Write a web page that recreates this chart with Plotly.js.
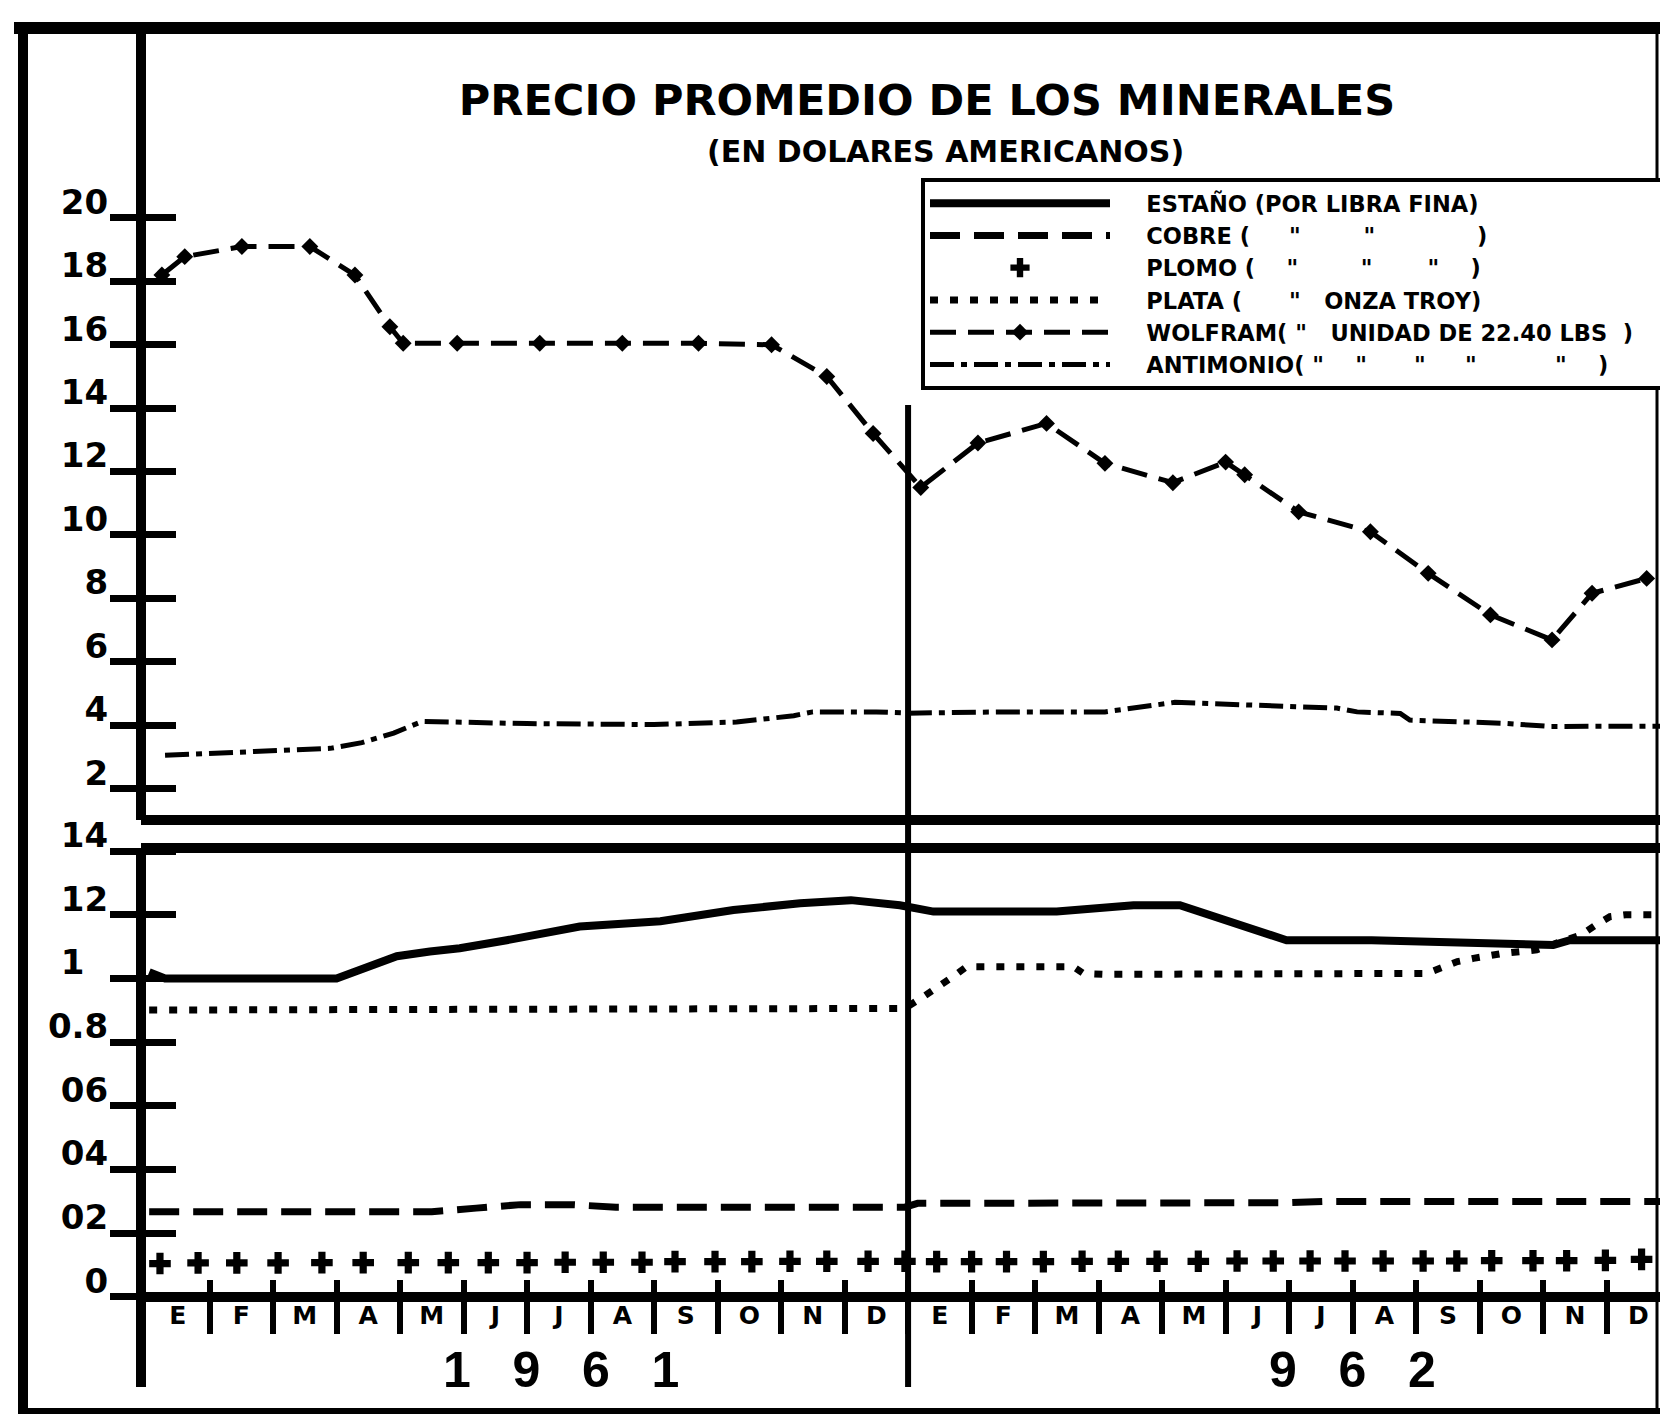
<!DOCTYPE html>
<html>
<head>
<meta charset="utf-8">
<script src="https://cdn.plot.ly/plotly-3.0.1.min.js"></script>
<style>
html,body{margin:0;padding:0;background:#ffffff;}
#chart{width:1660px;height:1416px;}
</style>
</head>
<body>
<div id="chart"></div>
<script>
// ---------------- DATA (x in months from January 1961; 12 = January 1962) ----------------
const MONTH_LABELS = ['E','F','M','A','M','J','J','A','S','O','N','D','E','F','M','A','M','J','J','A','S','O','N','D'];
const MONTH_CENTERS = [0.5,1.5,2.5,3.5,4.5,5.5,6.5,7.5,8.5,9.5,10.5,11.5,12.5,13.5,14.5,15.5,16.5,17.5,18.5,19.5,20.5,21.5,22.5,23.5];
const MONTH_EDGES = [1,2,3,4,5,6,7,8,9,10,11,12,13,14,15,16,17,18,19,20,21,22,23];
const UPPER_TICKS = [2,4,6,8,10,12,14,16,18,20];
const UPPER_TICK_TEXT = ['2','4','6','8','10','12','14','16','18','20'];
const LOWER_TICKS = [0,0.2,0.4,0.6,0.8,1.0,1.2,1.4];
const LOWER_TICK_TEXT = ['0','02','04','06','0.8','1\u00a0\u00a0','12','14'];
const YEAR_LABELS = ['1\u00a0\u00a0\u00a09\u00a0\u00a0\u00a06\u00a0\u00a0\u00a01', '9\u00a0\u00a0\u00a06\u00a0\u00a0\u00a02'];
const YEAR_X = [6.54, 19.0];
const YEAR_BREAK = 12;

const LEAD = '\u00a0\u00a0\u00a0\u00a0';
const SERIES_NAMES = [
  LEAD + 'ESTAÑO (POR LIBRA FINA)',
  LEAD + 'COBRE (\u00a0\u00a0\u00a0\u00a0\u00a0"\u00a0\u00a0\u00a0\u00a0\u00a0\u00a0\u00a0\u00a0"\u00a0\u00a0\u00a0\u00a0\u00a0\u00a0\u00a0\u00a0\u00a0\u00a0\u00a0\u00a0\u00a0)',
  LEAD + 'PLOMO (\u00a0\u00a0\u00a0\u00a0"\u00a0\u00a0\u00a0\u00a0\u00a0\u00a0\u00a0\u00a0"\u00a0\u00a0\u00a0\u00a0\u00a0\u00a0\u00a0"\u00a0\u00a0\u00a0\u00a0)',
  LEAD + 'PLATA (\u00a0\u00a0\u00a0\u00a0\u00a0\u00a0"\u00a0\u00a0\u00a0ONZA TROY)',
  LEAD + 'WOLFRAM(\u00a0"\u00a0\u00a0\u00a0UNIDAD DE 22.40 LBS\u00a0\u00a0)\u00a0\u00a0\u00a0',
  LEAD + 'ANTIMONIO(\u00a0"\u00a0\u00a0\u00a0\u00a0"\u00a0\u00a0\u00a0\u00a0\u00a0\u00a0"\u00a0\u00a0\u00a0\u00a0\u00a0"\u00a0\u00a0\u00a0\u00a0\u00a0\u00a0\u00a0\u00a0\u00a0\u00a0"\u00a0\u00a0\u00a0\u00a0)'
];

// Lower scale (dollars)
const ESTANO_X = [0.05, 0.3, 3.0, 3.95, 4.47, 4.94, 5.68, 6.83, 8.1, 9.25, 10.3, 11.1, 11.87, 12.4, 14.34, 15.55, 16.28, 17.96, 19.3, 21.0, 22.16, 22.42, 23.84];
const ESTANO_Y = [1.02, 1.0, 1.0, 1.07, 1.085, 1.095, 1.12, 1.163, 1.18, 1.215, 1.236, 1.246, 1.23, 1.21, 1.21, 1.23, 1.23, 1.12, 1.12, 1.11, 1.105, 1.12, 1.12];

const COBRE_X = [0.05, 4.5, 5.2, 5.9, 6.7, 7.4, 11.95, 12.15, 18.0, 18.6, 23.84];
const COBRE_Y = [0.268, 0.268, 0.279, 0.29, 0.29, 0.282, 0.282, 0.294, 0.296, 0.3, 0.3];

const PLOMO_X = [0.22, 0.82, 1.43, 2.08, 2.77, 3.42, 4.13, 4.76, 5.39, 6.0, 6.6, 7.2, 7.81, 8.33, 8.96, 9.54, 10.14, 10.72, 11.37, 11.95, 12.45, 13.0, 13.55, 14.13, 14.74, 15.31, 15.92, 16.57, 17.18, 17.75, 18.33, 18.88, 19.48, 20.11, 20.64, 21.19, 21.84, 22.37, 22.98, 23.55];
const PLOMO_Y = [0.105, 0.107, 0.107, 0.107, 0.108, 0.108, 0.108, 0.108, 0.108, 0.108, 0.109, 0.109, 0.109, 0.111, 0.111, 0.111, 0.112, 0.112, 0.112, 0.112, 0.111, 0.111, 0.111, 0.111, 0.112, 0.112, 0.112, 0.112, 0.113, 0.113, 0.113, 0.113, 0.113, 0.113, 0.113, 0.114, 0.114, 0.114, 0.115, 0.118];

const PLATA_X = [0.05, 11.95, 12.24, 12.45, 12.71, 12.92, 14.6, 14.76, 15.1, 20.17, 20.43, 20.65, 20.9, 21.37, 21.9, 22.32, 22.6, 22.83, 23.05, 23.3, 23.84];
const PLATA_Y = [0.901, 0.906, 0.943, 0.97, 1.006, 1.037, 1.037, 1.016, 1.013, 1.016, 1.037, 1.053, 1.063, 1.079, 1.09, 1.12, 1.137, 1.168, 1.194, 1.2, 1.2];

// Upper scale (dollars per unit of 22.40 lbs)
const WOLFRAM_X = [0.25, 0.61, 1.51, 2.58, 3.29, 3.84, 4.05, 4.9, 6.2, 7.5, 8.7, 9.85, 10.72, 11.45, 12.2, 13.1, 14.18, 15.1, 16.17, 17.0, 17.3, 18.15, 19.28, 20.19, 21.17, 22.14, 22.77, 23.63];
const WOLFRAM_Y = [18.2, 18.78, 19.1, 19.1, 18.2, 16.57, 16.05, 16.05, 16.05, 16.05, 16.05, 16.0, 15.0, 13.2, 11.5, 12.9, 13.52, 12.26, 11.65, 12.3, 11.9, 10.73, 10.1, 8.79, 7.48, 6.69, 8.16, 8.63];

const ANTIMONIO_X = [0.3, 1.5, 2.9, 3.4, 3.9, 4.35, 6.0, 8.0, 9.3, 10.2, 10.5, 11.5, 12.0, 13.5, 15.1, 16.2, 17.9, 18.75, 19.07, 19.75, 19.9, 21.4, 22.1, 23.84];
const ANTIMONIO_Y = [3.05, 3.15, 3.27, 3.45, 3.75, 4.12, 4.05, 4.02, 4.1, 4.3, 4.42, 4.42, 4.38, 4.42, 4.42, 4.72, 4.58, 4.54, 4.42, 4.37, 4.16, 4.06, 3.96, 3.97];

// ---------------- LAYOUT GEOMETRY ----------------
const W = 1660, H = 1416, ML = 146, MR = 0, MT = 30, MB = 29;
const PW = W - ML - MR, PH = H - MT - MB;
const px = x => (x - ML) / PW;
const py = y => (H - MB - y) / PH;

const X_RANGE = [0, 23.84];
const LOW_RANGE = [-0.2826, 1.4097];
const UP_RANGE = [1.0095, 25.93];
const INK = '#000000';
const FONT = 'DejaVu Sans, Liberation Sans, sans-serif';

const tickFont = {family: FONT, size: 34, color: INK, weight: 700};

const traces = [
  {name: SERIES_NAMES[0], x: ESTANO_X, y: ESTANO_Y, xaxis: 'x', yaxis: 'y', mode: 'lines',
   line: {color: INK, width: 8}},
  {name: SERIES_NAMES[1], x: COBRE_X, y: COBRE_Y, xaxis: 'x3', yaxis: 'y', mode: 'lines',
   line: {color: INK, width: 7, dash: '30px,14px'}},
  {name: SERIES_NAMES[2], x: PLOMO_X, y: PLOMO_Y, xaxis: 'x', yaxis: 'y3', mode: 'markers',
   marker: {symbol: 'cross', size: 18, color: INK}},
  {name: SERIES_NAMES[3], x: PLATA_X, y: PLATA_Y, xaxis: 'x', yaxis: 'y', mode: 'lines',
   line: {color: INK, width: 7, dash: '8px,12px'}},
  {name: SERIES_NAMES[4], x: WOLFRAM_X, y: WOLFRAM_Y, xaxis: 'x2', yaxis: 'y2', mode: 'lines+markers',
   line: {color: INK, width: 5, dash: '26px,12px'}, marker: {symbol: 'diamond', size: 13, color: INK}},
  {name: SERIES_NAMES[5], x: ANTIMONIO_X, y: ANTIMONIO_Y, xaxis: 'x2', yaxis: 'y4', mode: 'lines',
   line: {color: INK, width: 5, dash: '24px,7px,6px,7px'}}
];

const baseAxis = {showgrid: false, zeroline: false, fixedrange: true, color: INK};

const layout = {
  width: W, height: H,
  margin: {l: ML, r: MR, t: MT, b: MB, autoexpand: false},
  paper_bgcolor: '#ffffff', plot_bgcolor: 'rgba(0,0,0,0)',
  font: {family: FONT, color: INK},
  showlegend: true,
  title: {
    text: 'PRECIO PROMEDIO DE LOS MINERALES',
    font: {family: FONT, size: 43, color: INK, weight: 700},
    x: 927 / W, xref: 'container', xanchor: 'center',
    y: 1 - 100 / H, yref: 'container', yanchor: 'middle'
  },
  legend: {
    x: px(921), y: py(178), xanchor: 'left', yanchor: 'top',
    bgcolor: '#ffffff', bordercolor: INK, borderwidth: 4,
    font: {family: FONT, size: 22.5, color: INK, weight: 700},
    itemwidth: 180, tracegroupgap: 0, itemclick: false, itemdoubleclick: false
  },
  // lower panel (0 - 1.4)
  xaxis: Object.assign({}, baseAxis, {
    range: X_RANGE, anchor: 'free', position: py(1297), domain: [0, 1],
    showline: true, linewidth: 10, linecolor: INK,
    tickmode: 'array', tickvals: MONTH_CENTERS, ticktext: MONTH_LABELS, ticks: '',
    tickfont: {family: FONT, size: 25, color: INK, weight: 700}, ticklabelstandoff: -8,
    minor: {tickmode: 'array', tickvals: MONTH_EDGES, ticks: 'outside', ticklen: 32, tickwidth: 6, tickcolor: INK, showgrid: false}
  }),
  xaxis3: Object.assign({}, baseAxis, {
    range: X_RANGE, overlaying: 'x', anchor: 'free', position: py(1297),
    showline: false, tickmode: 'array', tickvals: MONTH_EDGES, ticks: 'inside',
    ticklen: 17, tickwidth: 6, tickcolor: INK, showticklabels: false
  }),
  yaxis: Object.assign({}, baseAxis, {
    domain: [0, py(848)], range: LOW_RANGE, anchor: 'x',
    showline: true, linewidth: 10, linecolor: INK,
    tickmode: 'array', tickvals: LOWER_TICKS, ticktext: LOWER_TICK_TEXT,
    ticks: 'outside', ticklen: 26, tickwidth: 7, tickcolor: INK,
    tickfont: tickFont, ticklabelshift: -16, ticklabelstandoff: -5
  }),
  yaxis3: Object.assign({}, baseAxis, {
    range: LOW_RANGE, overlaying: 'y', anchor: 'x', showline: false,
    tickmode: 'array', tickvals: LOWER_TICKS, ticks: 'inside', ticklen: 30, tickwidth: 7,
    tickcolor: INK, showticklabels: false
  }),
  // upper panel (2 - 20)
  xaxis2: Object.assign({}, baseAxis, {range: X_RANGE, anchor: 'y2', visible: false}),
  yaxis2: Object.assign({}, baseAxis, {
    domain: [py(820), 1], range: UP_RANGE, anchor: 'x2',
    showline: true, linewidth: 10, linecolor: INK,
    tickmode: 'array', tickvals: UPPER_TICKS, ticktext: UPPER_TICK_TEXT,
    ticks: 'outside', ticklen: 26, tickwidth: 7, tickcolor: INK,
    tickfont: tickFont, ticklabelshift: -16, ticklabelstandoff: -5
  }),
  yaxis4: Object.assign({}, baseAxis, {
    range: UP_RANGE, overlaying: 'y2', anchor: 'x2', showline: false,
    tickmode: 'array', tickvals: UPPER_TICKS, ticks: 'inside', ticklen: 30, tickwidth: 7,
    tickcolor: INK, showticklabels: false
  }),
  shapes: [
    // scale-break lines between the two panels
    {type: 'line', xref: 'paper', yref: 'y domain', x0: px(141), x1: 1, y0: 1, y1: 1, line: {color: INK, width: 10}},
    {type: 'line', xref: 'paper', yref: 'y2 domain', x0: px(141), x1: 1, y0: 0, y1: 0, line: {color: INK, width: 10}},
    // year separator
    {type: 'line', xref: 'x', yref: 'paper', x0: YEAR_BREAK, x1: YEAR_BREAK, y0: py(1387), y1: py(405), line: {color: INK, width: 6}},
    // outer frame
    {type: 'line', xref: 'paper', yref: 'paper', x0: px(14), x1: px(1660), y0: py(28), y1: py(28), line: {color: INK, width: 12}},
    {type: 'line', xref: 'paper', yref: 'paper', x0: px(23), x1: px(23), y0: py(22), y1: py(1414), line: {color: INK, width: 10}},
    {type: 'line', xref: 'paper', yref: 'paper', x0: px(18), x1: px(1660), y0: py(1411), y1: py(1411), line: {color: INK, width: 6}},
    {type: 'line', xref: 'paper', yref: 'paper', x0: px(1657), x1: px(1657), y0: py(22), y1: py(1411), line: {color: INK, width: 3}}
  ],
  annotations: [
    {text: '(EN DOLARES AMERICANOS)', xref: 'paper', yref: 'paper', x: px(945), y: py(151),
     xanchor: 'center', yanchor: 'middle', showarrow: false,
     font: {family: FONT, size: 30, color: INK, weight: 700}},
    {text: YEAR_LABELS[0], xref: 'x', yref: 'paper', x: YEAR_X[0], y: py(1370),
     xanchor: 'center', yanchor: 'middle', showarrow: false,
     font: {family: 'Liberation Sans, Arial, sans-serif', size: 50, color: INK, weight: 700}},
    {text: YEAR_LABELS[1], xref: 'x', yref: 'paper', x: YEAR_X[1], y: py(1370),
     xanchor: 'center', yanchor: 'middle', showarrow: false,
     font: {family: 'Liberation Sans, Arial, sans-serif', size: 50, color: INK, weight: 700}}
  ]
};

Plotly.newPlot('chart', traces, layout, {displayModeBar: false, staticPlot: true});
</script>
</body>
</html>
